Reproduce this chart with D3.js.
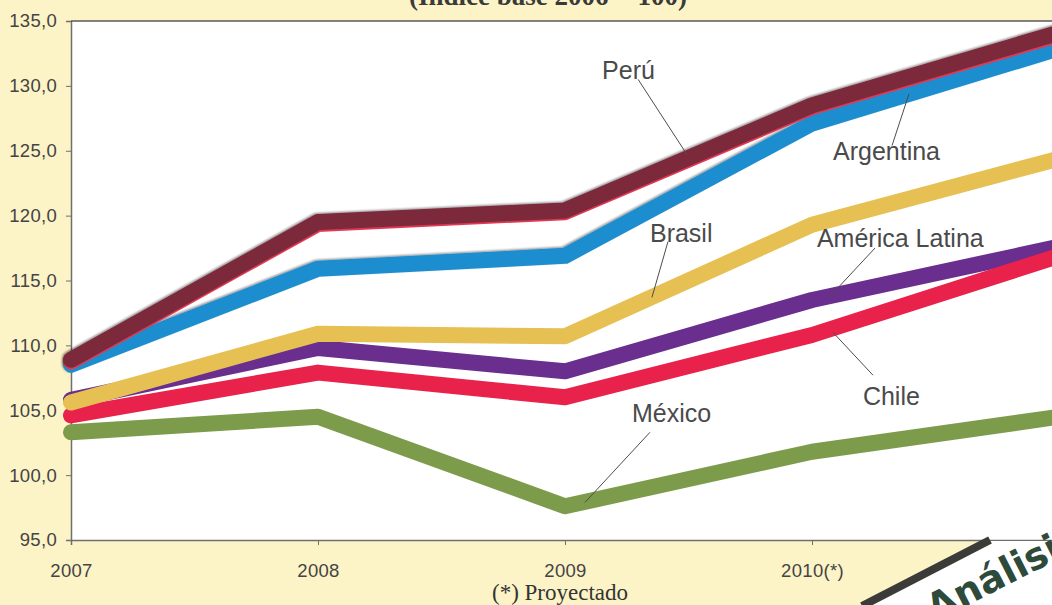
<!DOCTYPE html>
<html>
<head>
<meta charset="utf-8">
<script src="https://cdn.jsdelivr.net/npm/d3@7"></script>
<style>
  html, body { margin: 0; padding: 0; background: #fcf3c6; overflow: hidden; }
  svg { display: block; }
</style>
</head>
<body>
<svg id="chart" width="1052" height="605"></svg>
<script>
// ---- data ----
const years = [2007, 2008, 2009, 2010, 2011];
const yearLabels = ["2007", "2008", "2009", "2010(*)", "2011(*)"];
const yTicks = [95, 100, 105, 110, 115, 120, 125, 130, 135];

const peru          = [108.9, 119.5, 120.4, 128.5, 134.1];
const argentina     = [108.5, 115.9, 116.9, 127.1, 132.9];
const brasil        = [105.6, 110.9, 110.7, 119.3, 124.4];
const americaLatina = [105.8, 109.8, 108.0, 113.5, 117.6];
const chile         = [104.6, 107.9, 106.0, 110.8, 116.9];
const mexico        = [103.3, 104.5, 97.6, 101.8, 104.5];

const seriesNames = ["México", "América Latina", "Chile", "Brasil", "Argentina", "Perú"];
const seriesValues = [mexico, americaLatina, chile, brasil, argentina, peru];
const seriesColors = ["#7c9c4b", "#6a2e8e", "#e8224b", "#e7c053", "#1f8dcf", "#7c2a3b"];

// label annotations in data coordinates: text anchor (year, value), leader from -> to
const labelText   = ["Perú", "Argentina", "Brasil", "América Latina", "Chile", "México"];
const labelPos    = [[2009.15, 130.5], [2010.085, 124.3], [2009.344, 118.0], [2010.02, 117.6], [2010.206, 105.4], [2009.271, 104.1]];
const leaderStart = [[2009.296, 130.5], [2010.324, 125.4], [2009.417, 118.0], [2010.255, 117.5], [2010.247, 107.7], [2009.344, 103.3]];
const leaderEnd   = [[2009.494, 124.7], [2010.393, 129.4], [2009.352, 113.7], [2010.069, 113.7], [2010.085, 111.0], [2009.081, 97.9]];

const titleText = "(Índice base 2006 = 100)";
const noteText = "(*) Proyectado";

// ---- layout ----
const svg = d3.select("#chart");
const W = 1052, H = 605;
const mLeft = 71, mTop = 21, mBottom = 540, mRight = 1059;

const x = d3.scaleLinear().domain([2007, 2011]).range([mLeft, mRight]);
const y = d3.scaleLinear().domain([95, 135]).range([mBottom, mTop]);

// background
svg.append("rect").attr("width", W).attr("height", H).attr("fill", "#fcf3c6");
// plot area
svg.append("rect").attr("x", mLeft).attr("y", mTop).attr("width", W - mLeft + 20).attr("height", mBottom - mTop).attr("fill", "#ffffff");

// defs: soft shadow
const defs = svg.append("defs");
const f = defs.append("filter").attr("id", "shadow").attr("x", "-5%").attr("y", "-20%").attr("width", "110%").attr("height", "140%");
f.append("feGaussianBlur").attr("in", "SourceAlpha").attr("stdDeviation", 1.2).attr("result", "b");
f.append("feOffset").attr("in", "b").attr("dx", -1).attr("dy", -1.5).attr("result", "o");
f.append("feComponentTransfer").attr("in", "o").attr("result", "o2")
  .append("feFuncA").attr("type", "linear").attr("slope", 0.45);
const fm = f.append("feMerge");
fm.append("feMergeNode").attr("in", "o2");
fm.append("feMergeNode").attr("in", "SourceGraphic");

// title (cut at top)
svg.append("text").attr("x", 548).attr("y", 5).attr("text-anchor", "middle")
  .attr("font-family", "Liberation Serif, serif").attr("font-weight", "bold")
  .attr("font-size", 27).attr("fill", "#3a3a3a").text(titleText);

// axes
const yAxis = d3.axisLeft(y).tickValues(yTicks).tickSize(5).tickPadding(9)
  .tickFormat(d => d3.format(".1f")(d).replace(".", ","));
const gy = svg.append("g").attr("transform", `translate(${mLeft},0)`).call(yAxis);
gy.select(".domain").attr("stroke", "#6f6f6f").attr("stroke-width", 1.5);
gy.selectAll(".tick line").attr("stroke", "#6f6f6f");
gy.selectAll(".tick text").attr("font-family", "Liberation Sans, Arial, sans-serif")
  .attr("font-size", 18.5).attr("fill", "#444").attr("letter-spacing", 0.3);

const xAxis = d3.axisBottom(x).tickValues(years).tickSize(5).tickPadding(19)
  .tickFormat((d, i) => yearLabels[i]);
const gx = svg.append("g").attr("transform", `translate(0,${mBottom})`).call(xAxis);
gx.select(".domain").attr("stroke", "#6f6f6f").attr("stroke-width", 1.5);
gx.selectAll(".tick line").attr("stroke", "#6f6f6f");
gx.selectAll(".tick text").attr("font-family", "Liberation Sans, Arial, sans-serif")
  .attr("font-size", 18.5).attr("fill", "#444").attr("letter-spacing", 0.3);

// top border
svg.append("line").attr("x1", mLeft).attr("x2", W).attr("y1", mTop).attr("y2", mTop)
  .attr("stroke", "#5a5a5a").attr("stroke-width", 1.5);

// lines
const line = d3.line().x((d, i) => x(years[i])).y(d => y(d));
const gl = svg.append("g");
seriesValues.forEach((vals, k) => {
  const name = seriesNames[k];
  if (name === "Perú") {
    gl.append("path").attr("d", line(vals)).attr("fill", "none")
      .attr("stroke", "#e23a55").attr("stroke-width", 16)
      .attr("stroke-linejoin", "round").attr("stroke-linecap", "round")
      .attr("transform", "translate(0,1.8)");
  }
  gl.append("path").attr("d", line(vals)).attr("fill", "none")
    .attr("stroke", seriesColors[k]).attr("stroke-width", 16)
    .attr("stroke-linejoin", "round").attr("stroke-linecap", "round")
    .attr("filter", (name === "Perú" || name === "Argentina") ? "url(#shadow)" : null);
});

// labels + leaders
const ga = svg.append("g");
labelText.forEach((t, i) => {
  ga.append("line")
    .attr("x1", x(leaderStart[i][0])).attr("y1", y(leaderStart[i][1]))
    .attr("x2", x(leaderEnd[i][0])).attr("y2", y(leaderEnd[i][1]))
    .attr("stroke", "#4d4d4d").attr("stroke-width", 1);
  ga.append("text").attr("x", x(labelPos[i][0])).attr("y", y(labelPos[i][1]))
    .attr("font-family", "Liberation Sans, Arial, sans-serif").attr("font-size", 25)
    .attr("fill", "#4a4a4a").text(t);
});

// note
svg.append("text").attr("x", 560).attr("y", 600).attr("text-anchor", "middle")
  .attr("font-family", "Liberation Serif, serif").attr("font-size", 23)
  .attr("fill", "#333").text(noteText);

// page decoration at lower right (overlapping page corner)
svg.append("polygon").attr("points", "990,541 1052,541 1052,605 864,605").attr("fill", "#ffffff");
svg.append("line").attr("x1", 990).attr("y1", 540).attr("x2", 862).attr("y2", 606)
  .attr("stroke", "#3b3b37").attr("stroke-width", 8);
svg.append("text").attr("transform", "translate(935,622) rotate(-27)")
  .attr("font-family", "DejaVu Sans, sans-serif").attr("font-weight", "bold")
  .attr("font-size", 38).attr("fill", "#2e4a3b").text("Análisis");
</script>
</body>
</html>
